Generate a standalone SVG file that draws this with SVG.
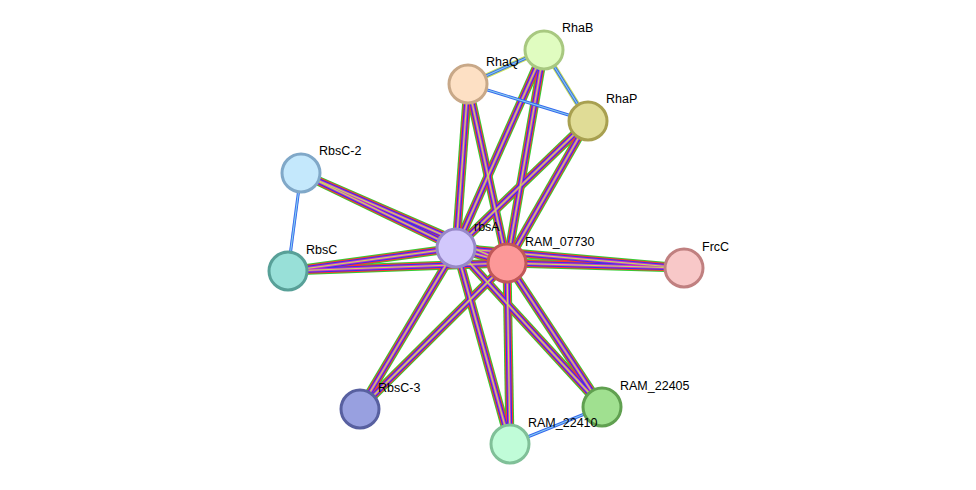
<svg xmlns="http://www.w3.org/2000/svg" xmlns:xlink="http://www.w3.org/1999/xlink" width="976" height="490" viewBox="0 0 976 490">
<style>
.g{stroke:#33cc33;stroke-width:9;fill:none}
.r{stroke:#ff3333;stroke-width:7;fill:none}
.b{stroke:#3333ee;stroke-width:5;fill:none}
.m{stroke:#cc33cc;stroke-width:3;fill:none}
.y{stroke:#c8e05a;stroke-width:1.2;fill:none}
.tg{stroke:#c8e05a;stroke-width:5;fill:none}
.tb{stroke:#3366ee;stroke-width:3;fill:none}
.tc{stroke:#88ccee;stroke-width:1.2;fill:none}
circle{stroke-width:3}
text{font-family:"Liberation Sans",Arial,sans-serif;font-size:12.5px;fill:#000}
</style>
<rect width="976" height="490" fill="#fff"/>
<defs>
<path id="e1" d="M456,248L507,263"/>
<path id="e2" d="M456,248L468,84"/>
<path id="e3" d="M456,248L544,50"/>
<path id="e4" d="M456,248L588,121"/>
<path id="e5" d="M456,248L301,173"/>
<path id="e6" d="M456,248L288,271"/>
<path id="e7" d="M456,248L684,268"/>
<path id="e8" d="M456,248L360,409"/>
<path id="e9" d="M456,248L510,444"/>
<path id="e10" d="M456,248L602,407"/>
<path id="f2" d="M507,263L468,84"/>
<path id="f3" d="M507,263L544,50"/>
<path id="f4" d="M507,263L588,121"/>
<path id="f5" d="M507,263L301,173"/>
<path id="f6" d="M507,263L288,271"/>
<path id="f7" d="M507,263L684,268"/>
<path id="f8" d="M507,263L360,409"/>
<path id="f9" d="M507,263L510,444"/>
<path id="f10" d="M507,263L602,407"/>
<path id="s1" d="M468,84L544,50"/>
<path id="s2" d="M468,84L588,121"/>
<path id="s3" d="M544,50L588,121"/>
<path id="s4" d="M301,173L288,271"/>
<path id="s5" d="M602,407L510,444"/>
</defs>
<g id="connectors">
<g class="g"><use href="#e2"/><use href="#e3"/><use href="#e4"/><use href="#e5"/><use href="#e6"/><use href="#e7"/><use href="#e8"/><use href="#e9"/><use href="#e10"/><use href="#f2"/><use href="#f3"/><use href="#f4"/><use href="#f5"/><use href="#f6"/><use href="#f7"/><use href="#f8"/><use href="#f9"/><use href="#f10"/><use href="#e1"/></g>
<g class="r"><use href="#e2"/><use href="#e3"/><use href="#e4"/><use href="#e5"/><use href="#e6"/><use href="#e7"/><use href="#e8"/><use href="#e9"/><use href="#e10"/><use href="#f2"/><use href="#f3"/><use href="#f4"/><use href="#f5"/><use href="#f6"/><use href="#f7"/><use href="#f8"/><use href="#f9"/><use href="#f10"/><use href="#e1"/></g>
<g class="b"><use href="#e2"/><use href="#e3"/><use href="#e4"/><use href="#e5"/><use href="#e6"/><use href="#e7"/><use href="#e8"/><use href="#e9"/><use href="#e10"/><use href="#f2"/><use href="#f3"/><use href="#f4"/><use href="#f5"/><use href="#f6"/><use href="#f7"/><use href="#f8"/><use href="#f9"/><use href="#f10"/><use href="#e1"/></g>
<g class="m"><use href="#e2"/><use href="#e3"/><use href="#e4"/><use href="#e5"/><use href="#e6"/><use href="#e7"/><use href="#e8"/><use href="#e9"/><use href="#e10"/><use href="#f2"/><use href="#f3"/><use href="#f4"/><use href="#f5"/><use href="#f6"/><use href="#f7"/><use href="#f8"/><use href="#f9"/><use href="#f10"/><use href="#e1"/></g>
<g class="y"><use href="#e2"/><use href="#e3"/><use href="#e4"/><use href="#e5"/><use href="#e6"/><use href="#e7"/><use href="#e8"/><use href="#e9"/><use href="#e10"/><use href="#f2"/><use href="#f3"/><use href="#f4"/><use href="#f5"/><use href="#f6"/><use href="#f7"/><use href="#f8"/><use href="#f9"/><use href="#f10"/><use href="#e1"/></g>
<g class="tg"><use href="#s1"/><use href="#s3"/></g>
<g class="tb"><use href="#s1"/><use href="#s2"/><use href="#s3"/><use href="#s4"/><use href="#s5"/></g>
<g class="tc"><use href="#s1"/><use href="#s2"/><use href="#s3"/><use href="#s4"/><use href="#s5"/></g>
</g>
<g id="RhaB"><circle cx="544" cy="50" r="19" fill="#e0fcc0" stroke="#a8c880"/><text x="562" y="32">RhaB</text></g>
<g id="RhaQ"><circle cx="468" cy="84" r="19" fill="#fde0c4" stroke="#c8a888"/><text x="486" y="66">RhaQ</text></g>
<g id="RhaP"><circle cx="588" cy="121" r="19" fill="#e0dc96" stroke="#a8a050"/><text x="606" y="103">RhaP</text></g>
<g id="RbsC-2"><circle cx="301" cy="173" r="19" fill="#c4e8fc" stroke="#80a8c8"/><text x="319" y="155">RbsC-2</text></g>
<g id="rbsA"><circle cx="456" cy="248" r="19" fill="#d2c8fc" stroke="#9888c8"/><text x="474" y="231">rbsA</text></g>
<g id="RAM_07730"><circle cx="507" cy="263" r="19" fill="#fc9898" stroke="#c05858"/><text x="525" y="246">RAM_07730</text></g>
<g id="FrcC"><circle cx="684" cy="268" r="19" fill="#f8c8c8" stroke="#c08080"/><text x="702" y="251">FrcC</text></g>
<g id="RbsC"><circle cx="288" cy="271" r="19" fill="#98e0d8" stroke="#58a098"/><text x="306" y="254">RbsC</text></g>
<g id="RbsC-3"><circle cx="360" cy="409" r="19" fill="#98a0e0" stroke="#5860a0"/><text x="378" y="392">RbsC-3</text></g>
<g id="RAM_22405"><circle cx="602" cy="407" r="19" fill="#a0e090" stroke="#60a050"/><text x="620" y="390">RAM_22405</text></g>
<g id="RAM_22410"><circle cx="510" cy="444" r="19" fill="#c0fcd8" stroke="#80c098"/><text x="528" y="427">RAM_22410</text></g>
</svg>
